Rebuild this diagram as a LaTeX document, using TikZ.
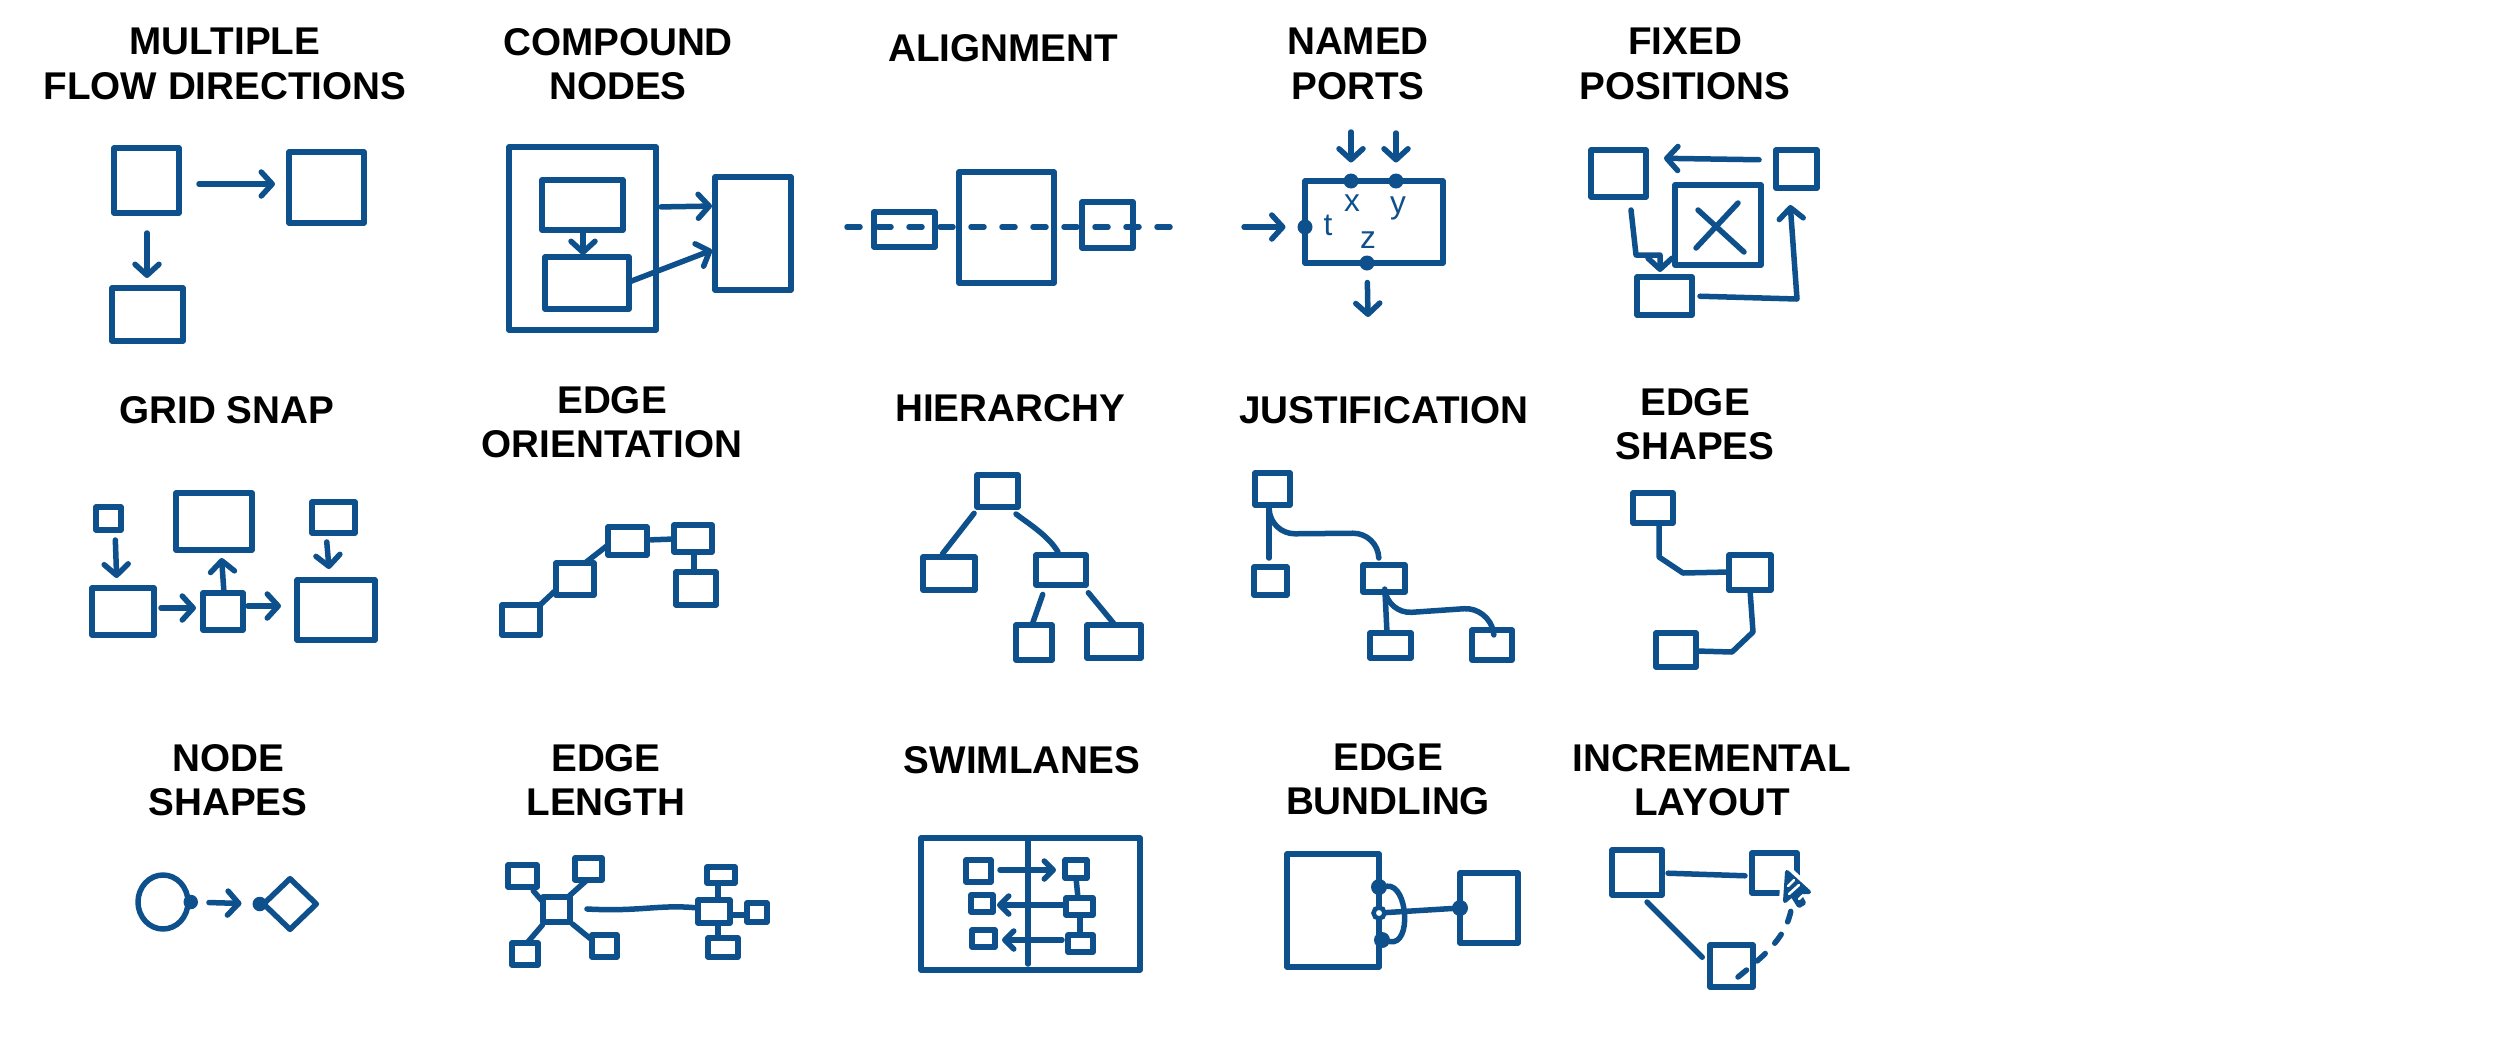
\documentclass[tikz,border=0pt]{standalone}
\usepackage{fontspec}
\setmainfont{Liberation Sans}
\usetikzlibrary{arrows.meta,fit,shapes.geometric,calc}
\definecolor{myblue}{RGB}{14,80,140}
\newcommand\ttlfont{\fontsize{11}{12.6}\selectfont\bfseries}
\begin{document}
\begin{tikzpicture}[x=0.1mm,y=-0.1mm,
  ln/.style={draw=myblue, line width=0.55mm, line cap=round, line join=round},
  bx/.style={ln, rectangle, inner sep=0pt, outer sep=0pt},
  arr/.style={ln, -{Straight Barb[length=1.1mm,width=2.4mm,round]}},
  sarr/.style={ln, -{Straight Barb[length=0.9mm,width=1.8mm,round]}},
  dot/.style={circle, fill=myblue, inner sep=0pt, outer sep=0pt, minimum size=1.35mm},
  ttl/.style={font=\ttlfont, align=center, inner sep=0pt, text=black},
  lbl/.style={font=\fontsize{9}{10}\selectfont, text=myblue, inner sep=0pt},
  dashln/.style={ln, dash pattern=on 1.3mm off 1.8mm}]
\useasboundingbox (0,0) rectangle (2506,1038);
\fill[white] (0,0) rectangle (2506,1038);

% ---------------- titles ----------------
\node[ttl] (t1) at (225,64) {MULTIPLE\\FLOW DIRECTIONS};
\node[ttl] (t2) at (618,64) {COMPOUND\\NODES};
\node[ttl] (t3) at (1003,48) {ALIGNMENT};
\node[ttl] (t4) at (1358,64) {NAMED\\PORTS};
\node[ttl] (t5) at (1685,64) {FIXED\\POSITIONS};
\node[ttl] (t6) at (227,410) {GRID SNAP};
\node[ttl] (t7) at (612,422) {EDGE\\ORIENTATION};
\node[ttl] (t8) at (1010,408) {HIERARCHY};
\node[ttl] (t9) at (1384,410) {JUSTIFICATION};
\node[ttl] (t10) at (1695,424) {EDGE\\SHAPES};
\node[ttl] (t11) at (228,780) {NODE\\SHAPES};
\node[ttl] (t12) at (606,780) {EDGE\\LENGTH};
\node[ttl] (t13) at (1022,760) {SWIMLANES};
\node[ttl] (t14) at (1388,779) {EDGE\\BUNDLING};
\node[ttl] (t15) at (1712,780) {INCREMENTAL\\LAYOUT};

% ---------------- multiple flow directions ----------------
\node[bx, fit={(114,148)(179,213)}] (p1a) {};
\node[bx, fit={(289,152)(364,223)}] (p1b) {};
\node[bx, fit={(112,288)(183,341)}] (p1c) {};
\draw[arr, shorten <=2mm, shorten >=1.4mm] (p1a.east |- 0,184) -- (p1b.west |- 0,184);
\draw[arr, shorten <=2mm, shorten >=1mm] (p1a.south -| 147,0) -- (p1c.north -| 147,0);

% ---------------- compound nodes ----------------
\node[bx, fit={(509,147)(656,330)}] (p2o) {};
\node[bx, fit={(542,180)(623,230)}] (p2i1) {};
\node[bx, fit={(545,257)(629,309)}] (p2i2) {};
\node[bx, fit={(715,177)(791,290)}] (p2r) {};
\draw[arr, shorten <=0.2mm, shorten >=0.2mm] (p2i1.south -| 583,0) -- (p2i2.north -| 583,0);
\draw[arr, shorten <=0.5mm, shorten >=0.3mm] (p2o.east |- 0,207) -- (p2r.west |- 0,206);
\draw[arr, shorten <=0.1mm, shorten >=0.3mm] (p2i2.east |- 0,282) -- (p2r.west |- 0,249);

% ---------------- alignment ----------------
\node[bx, fit={(874,212)(935,247)}] (p3a) {};
\node[bx, fit={(959,172)(1054,283)}] (p3b) {};
\node[bx, fit={(1082,202)(1133,248)}] (p3c) {};
\coordinate (p3s) at (847,227);
\coordinate (p3e) at (1180,227);
\draw[dashln] (p3s) -- (p3e);

% ---------------- named ports ----------------
\node[bx, fit={(1305,181)(1443,263)}] (p4) {};
\node[dot, minimum size=1.5mm] (p4x) at (p4.north -| 1351,0) {};
\node[dot, minimum size=1.5mm] (p4y) at (p4.north -| 1396,0) {};
\node[dot, minimum size=1.5mm] (p4t) at (p4.west |- 0,227) {};
\node[dot, minimum size=1.5mm] (p4z) at (p4.south -| 1367,0) {};
\coordinate (p4xs) at (1351,132);
\coordinate (p4ys) at (1396,133);
\coordinate (p4ts) at (1244,227);
\coordinate (p4ze) at (1368,317);
\draw[arr, shorten >=1.1mm] (p4xs) -- (p4x);
\draw[arr, shorten >=1.1mm] (p4ys) -- (p4y);
\draw[arr, shorten >=1.2mm] (p4ts) -- (p4t);
\draw[arr, shorten <=1.2mm] (p4z) -- (p4ze);
\node[lbl] (p4lx) at (1352,203) {x};
\node[lbl] (p4ly) at (1398,208) {y};
\node[lbl] (p4lt) at (1328,225) {t};
\node[lbl] (p4lz) at (1368,240) {z};

% ---------------- fixed positions ----------------
\node[bx, fit={(1591,150)(1646,197)}] (p5a) {};
\node[bx, fit={(1776,150)(1817,188)}] (p5b) {};
\node[bx, fit={(1675,185)(1761,265)}] (p5x) {};
\node[bx, fit={(1637,277)(1692,315)}] (p5c) {};
\draw[ln] (1698,210) -- (1744,252) (1738,203) -- (1696,248);
\draw[arr, shorten <=1.7mm, shorten >=1.8mm] (p5b.west |- 0,160) -- (p5a.east |- 0,158);
\draw[arr, shorten >=0.5mm] (p5a.south -| 1631,0) ++(0,13) -- (1636,255) -- (1660,255) -- (p5c.north -| 1660,0);
\draw[arr, shorten <=0.8mm, shorten >=1.7mm] (p5c.east |- 0,296) -- (1797,299) -- (p5b.south -| 1789,0);

% ---------------- grid snap ----------------
\node[bx, fit={(96,507)(121,530)}] (g1) {};
\node[bx, fit={(176,493)(252,550)}] (g2) {};
\node[bx, fit={(312,502)(355,533)}] (g3) {};
\node[bx, fit={(92,588)(154,635)}] (g4) {};
\node[bx, fit={(203,593)(243,630)}] (g5) {};
\node[bx, fit={(297,580)(375,640)}] (g6) {};
\draw[arr, shorten <=1mm, shorten >=1mm] (g1.south -| 115,0) -- (g4.north -| 117,0);
\draw[arr, shorten <=0.7mm, shorten >=0.7mm] (g4.east |- 0,608) -- (g5.west |- 0,608);
\draw[arr, shorten <=0.3mm, shorten >=0.8mm] (g5.north -| 224,0) -- (g2.south -| 221,0);
\draw[arr, shorten <=0.5mm, shorten >=1.6mm] (g5.east |- 0,606) -- (g6.west |- 0,606);
\draw[arr, shorten <=0.9mm, shorten >=1.1mm] (g3.south -| 326,0) -- (g6.north -| 330,0);

% ---------------- edge orientation ----------------
\node[bx, fit={(502,605)(540,635)}] (o1) {};
\node[bx, fit={(556,563)(594,595)}] (o2) {};
\node[bx, fit={(608,527)(647,555)}] (o3) {};
\node[bx, fit={(674,525)(712,552)}] (o4) {};
\node[bx, fit={(676,572)(716,605)}] (o5) {};
\draw[ln] (o1.north east) -- (o2.west |- 0,590);
\draw[ln] (o2.north -| 585,0) -- (o3.west |- 0,545);
\draw[ln, shorten <=0.4mm] (o3.east |- 0,540) -- (o4.west |- 0,539);
\draw[ln, shorten <=0.3mm, shorten >=0.3mm] (o4.south -| 694,0) -- (o5.north -| 694,0);

% ---------------- hierarchy ----------------
\node[bx, fit={(977,475)(1018,507)}] (h1) {};
\node[bx, fit={(923,557)(975,590)}] (h2) {};
\node[bx, fit={(1036,555)(1086,585)}] (h3) {};
\node[bx, fit={(1016,625)(1052,660)}] (h4) {};
\node[bx, fit={(1087,625)(1141,658)}] (h5) {};
\draw[ln, shorten <=0.8mm, shorten >=0.4mm] (h1.south -| 979,0) -- (h2.north -| 940,0);
\draw[ln] (h1.south -| 1016,0) ++(0,7) .. controls (1026,522) and (1048,535) .. ($(h3.north -| 1058,0)+(0,-3)$);
\draw[ln, shorten <=1mm, shorten >=0.2mm] (h3.south -| 1046,0) -- (h4.north -| 1032,0);
\draw[ln, shorten <=1mm, shorten >=0.1mm] (h3.south -| 1082,0) -- (h5.north -| 1115,0);

% ---------------- justification ----------------
\node[bx, fit={(1255,473)(1290,505)}] (j1) {};
\node[bx, fit={(1254,567)(1287,595)}] (j2) {};
\node[bx, fit={(1363,565)(1405,592)}] (j3) {};
\node[bx, fit={(1370,633)(1411,658)}] (j4) {};
\node[bx, fit={(1472,630)(1512,660)}] (j5) {};
\draw[ln, shorten <=0.2mm, shorten >=0.9mm] (j1.south -| 1269,0) -- (j2.north -| 1269,0);
\draw[ln, rounded corners=2.5mm, shorten >=0.8mm] (j1.south -| 1269,0) -- (1270,534) -- (1378,533) -- (j3.north -| 1379,0);
\draw[ln, shorten <=0.2mm, shorten >=0.3mm] (j3.south -| 1385,0) -- (j4.north -| 1387,0);
\draw[ln, rounded corners=2.5mm, shorten >=0.5mm] (j3.south -| 1385,0) -- (1387,614) -- (1489,607) -- (j5.north -| 1493,0);

% ---------------- edge shapes ----------------
\node[bx, fit={(1633,493)(1673,523)}] (s1) {};
\node[bx, fit={(1729,555)(1771,590)}] (s2) {};
\node[bx, fit={(1656,633)(1696,667)}] (s3) {};
\draw[ln] (s1.south -| 1659,0) -- (1659,557) -- (1683,573) -- (s2.west |- 0,572);
\draw[ln] (s2.south -| 1750,0) -- (1753,632) -- (1732,652) -- (s3.east |- 0,651);

% ---------------- node shapes ----------------
\node[ln, ellipse, minimum width=5mm, minimum height=5.4mm, inner sep=0pt] (n1) at (163,902) {};
\node[ln, diamond, minimum width=5.5mm, minimum height=5.3mm, inner sep=0pt] (n2) at (290,904) {};
\node[dot, minimum size=1.45mm] (n1d) at (n1.east) {};
\node[dot, minimum size=1.45mm] (n2d) at (n2.west) {};
\draw[arr, shorten <=1.1mm, shorten >=1.1mm] (n1d) -- (n2d);

% ---------------- edge length ----------------
\node[bx, fit={(543,897)(570,922)}] (l0) {};
\node[bx, fit={(508,865)(537,887)}] (l1) {};
\node[bx, fit={(575,858)(602,880)}] (l2) {};
\node[bx, fit={(512,943)(538,965)}] (l3) {};
\node[bx, fit={(592,935)(617,957)}] (l4) {};
\node[bx, fit={(698,900)(730,923)}] (r0) {};
\node[bx, fit={(707,867)(735,883)}] (r1) {};
\node[bx, fit={(747,903)(767,922)}] (r2) {};
\node[bx, fit={(708,938)(738,957)}] (r3) {};
\draw[ln, shorten <=0.5mm] (l1.south -| 530,0) -- (l0.west |- 0,902);
\draw[ln] (l0.north -| 568,0) -- (l2.south -| 587,0);
\draw[ln, shorten <=0.4mm] (l0.south -| 545,0) -- (l3.north -| 527,0);
\draw[ln, shorten <=0.3mm] (l0.south east) -- (l4.west |- 0,940);
\draw[ln, shorten <=1.7mm] (l0.east |- 0,908) .. controls (640,912) and (660,904) .. (r0.west |- 0,908);
\draw[ln] (r0.north -| 718,0) -- (r1.south -| 718,0);
\draw[ln] (r0.east |- 0,915) -- (r2.west |- 0,915);
\draw[ln] (r0.south -| 718,0) -- (r3.north -| 718,0);

% ---------------- swimlanes ----------------
\node[bx, fit={(921,838)(1140,970)}] (w0) {};
\draw[ln] (w0.north -| 1028,0) -- ($(w0.south -| 1028,0)+(0,-6)$);
\node[bx, fit={(966,860)(991,882)}] (wl1) {};
\node[bx, fit={(971,895)(993,912)}] (wl2) {};
\node[bx, fit={(972,930)(995,947)}] (wl3) {};
\node[bx, fit={(1065,860)(1087,878)}] (wr1) {};
\node[bx, fit={(1066,898)(1093,915)}] (wr2) {};
\node[bx, fit={(1068,935)(1093,952)}] (wr3) {};
\draw[sarr, shorten <=0.9mm, shorten >=0.9mm] (wl1.east |- 0,870) -- (wr1.west |- 0,870);
\draw[sarr, shorten <=0.2mm, shorten >=0.4mm] (wr2.west |- 0,905) -- (wl2.east |- 0,905);
\draw[sarr, shorten <=0.6mm, shorten >=0.7mm] (wr3.west |- 0,940) -- (wl3.east |- 0,940);
\draw[ln] (wr1.south -| 1076,0) -- (wr2.north -| 1078,0);
\draw[ln] (wr2.south -| 1080,0) -- (wr3.north -| 1080,0);

% ---------------- edge bundling ----------------
\node[bx, fit={(1287,854)(1379,967)}] (e0) {};
\node[bx, fit={(1460,873)(1518,943)}] (e1) {};
\node[dot, minimum size=1.6mm] (e0a) at (e0.east |- 0,887) {};
\node[dot, minimum size=1.6mm] (e0c) at ($(e0.east |- 0,940)+(3,0)$) {};
\node[dot, minimum size=1.6mm] (e1a) at (e1.west |- 0,908) {};
\coordinate (e0b) at (e0.east |- 0,913);
\draw[ln] (e0b) -- (e1a);
\draw[ln] (e0a) .. controls (1408,884) and (1412,946) .. (e0c);
\node[circle, draw=myblue, fill=white, line width=0.45mm, minimum size=1.1mm, inner sep=0pt] (e0bd) at (e0b) {};

% ---------------- incremental layout ----------------
\node[bx, fit={(1612,850)(1662,895)}] (i1) {};
\node[bx, fit={(1752,853)(1797,893)}] (i2) {};
\node[bx, fit={(1710,945)(1753,987)}] (i3) {};
\draw[ln, shorten <=0.6mm, shorten >=0.7mm] (i1.east |- 0,873) -- (i2.west |- 0,876);
\draw[ln, shorten <=1mm, shorten >=1.1mm] (i1.south -| 1640,0) -- (i3.west |- 0,965);
\coordinate (i4) at (1792,902);
\draw[ln, dash pattern=on 1.1mm off 1.4mm] ($(i3.south east)+(-15,-10)$) .. controls (1765,955) and (1790,935) .. (i4);
% cursor
\draw[white, line width=1.2mm, line join=round, fill=white]
  (1787,872) -- (1785,901) -- (1792,895) -- (1799,906) -- (1804,903) -- (1798,892) -- (1809,892) -- cycle;
\draw[ln, line width=0.4mm, fill=myblue]
  (1787,872) -- (1785,901) -- (1792,895) -- (1799,906) -- (1804,903) -- (1798,892) -- (1809,892) -- cycle;
\draw[white, line width=0.25mm, line cap=round] (1788,886) -- (1794,880) (1789,894) -- (1799,885) (1799,899) -- (1802,896);
\end{tikzpicture}
\end{document}
